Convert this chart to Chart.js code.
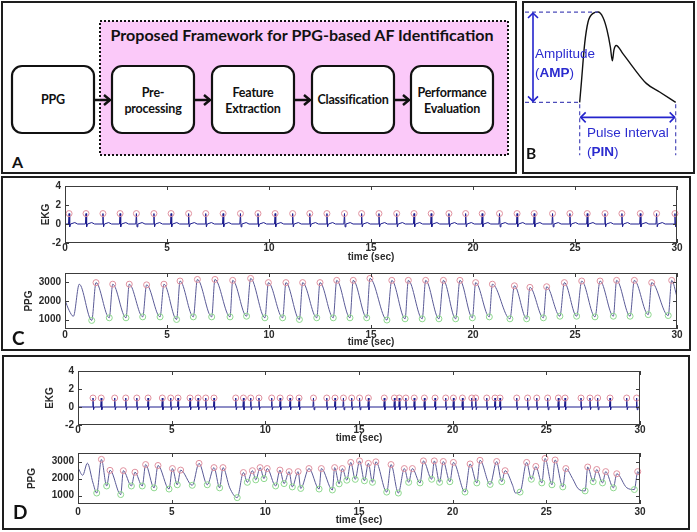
<!DOCTYPE html>
<html>
<head>
<meta charset="utf-8">
<script src="https://cdn.jsdelivr.net/npm/chart.js@4.4.1/dist/chart.umd.min.js"></script>
<style>
  body { margin: 0; background: #fff; width: 697px; height: 532px; position: relative; overflow: hidden; font-family: "Liberation Sans", Arial, sans-serif; }
  .panel { position: absolute; border: 2px solid #1e1e1e; box-sizing: border-box; }
  canvas { position: absolute; }
  .letter { position: absolute; font-family: Lato, "Liberation Sans", sans-serif; font-weight: bold; color: #111; line-height: 1; }
  .note { position: absolute; color: #2b2bcf; font-size: 13.5px; line-height: 1; white-space: nowrap; }
</style>
</head>
<body>
<div class="panel" style="left:1px;top:1px;width:516px;height:173px"></div>
<div class="panel" style="left:522px;top:1px;width:173px;height:173px"></div>
<div class="panel" style="left:1px;top:176px;width:690px;height:175px"></div>
<div class="panel" style="left:2px;top:355px;width:688px;height:175px"></div>

<svg id="diagram" width="520" height="176" style="position:absolute;left:0;top:0">
  <rect x="100" y="21" width="408" height="134" fill="#fbc9f9" stroke="#111" stroke-width="2" stroke-dasharray="2 2"/>
  <text x="302" y="41" text-anchor="middle" font-family="Lato" font-weight="bold" font-size="15" fill="#111"
        textLength="383" lengthAdjust="spacingAndGlyphs">Proposed Framework for PPG-based AF Identification</text>
</svg>

<canvas id="pulse"></canvas>
<div class="note" style="left:535px;top:46.5px">Amplitude</div>
<div class="note" style="left:535px;top:66px">(<b>AMP</b>)</div>
<div class="note" style="left:587px;top:125.5px">Pulse Interval</div>
<div class="note" style="left:587px;top:145px">(<b>PIN</b>)</div>

<canvas id="ekgC"></canvas>
<canvas id="ppgC"></canvas>
<canvas id="ekgD"></canvas>
<canvas id="ppgD"></canvas>

<div class="letter" style="left:12px;top:154px;font-size:16px">A</div>
<div class="letter" style="left:526px;top:146px;font-size:15.5px">B</div>
<div class="letter" style="left:12px;top:328px;font-size:19px">C</div>
<div class="letter" style="left:13px;top:502px;font-size:19px">D</div>

<script>
// ---- values ----
const stageNames = ['PPG', 'Pre-\nprocessing', 'Feature\nExtraction', 'Classification', 'Performance\nEvaluation'];

const xTicks = [0, 5, 10, 15, 20, 25, 30];
const ekgTicks = [-2, 0, 2, 4];
const ppgTicks = [1000, 2000, 3000];

// B: one pulse, time and amplitude normalised to 0..1
const pulseT = [0, 0.017, 0.052, 0.087, 0.139, 0.191, 0.243, 0.285, 0.32, 0.34, 0.357, 0.38, 0.45, 0.555, 0.694, 0.833, 1.0];
const pulseA = [0, 0.21, 0.65, 0.89, 0.985, 1.0, 0.94, 0.8, 0.61, 0.46, 0.58, 0.63, 0.54, 0.39, 0.21, 0.115, 0.0];

// C: regular rhythm
const ekgBeatsC = [0.2, 1.03, 1.86, 2.7, 3.5, 4.36, 5.2, 6.06, 6.9, 7.75, 8.6, 9.46, 10.3, 11.16, 12.0, 12.84, 13.7, 14.54,
  15.39, 16.26, 17.11, 17.95, 18.82, 19.64, 20.45, 21.3, 22.16, 23.0, 23.9, 24.75, 25.6, 26.47, 27.3, 28.2, 29.0, 29.9];
const ekgPeakC = 1.1;
const ppgPeakTC = [1.52, 2.34, 3.15, 4.0, 4.85, 5.64, 6.49, 7.35, 8.22, 9.1, 9.97, 10.83, 11.65, 12.5, 13.32, 14.13, 14.95,
  16.02, 16.83, 17.68, 18.55, 19.36, 20.13, 20.95, 22.03, 22.79, 23.61, 24.48, 25.33, 26.23, 27.04, 27.91, 28.76, 29.74];
const ppgPeakVC = [2985, 2900, 2900, 2865, 2900, 3070, 3155, 3155, 3105, 3210, 2985, 2985, 2985, 2985, 3105, 3105, 3210,
  3105, 3105, 3105, 3105, 3105, 2985, 2900, 2815, 2730, 2765, 2985, 3070, 3070, 3105, 3105, 2985, 3105];
const ppgFootTC = [1.31, 2.17, 2.99, 3.81, 4.66, 5.47, 6.29, 7.19, 8.09, 8.9, 9.8, 10.67, 11.49, 12.34, 13.15, 13.97, 14.79,
  15.78, 16.67, 17.51, 18.33, 19.15, 19.97, 20.8, 21.81, 22.63, 23.45, 24.26, 25.08, 25.98, 26.88, 27.7, 28.59, 29.57];
const ppgFootVC = [960, 1100, 1100, 1150, 1150, 1010, 1150, 1150, 1150, 1185, 1100, 1100, 1010, 1100, 1100, 1100, 1100,
  980, 1045, 1045, 1045, 1045, 1100, 1150, 1045, 1045, 1100, 1185, 1185, 1150, 1185, 1185, 1270, 1220];
const ppgEdgeTC = [0, 0.2, 0.41, 0.7, 30];          // unmarked trace points
const ppgEdgeVC = [2045, 1500, 1180, 2900, 2215];

// D: irregular rhythm (AF)
const ekgBeatsD = [0.8, 1.24, 1.96, 2.55, 3.14, 3.74, 4.5, 4.95, 5.34, 5.98, 6.41, 6.82, 7.26, 8.42, 8.83, 9.22, 9.66,
  10.34, 10.79, 11.32, 11.8, 12.57, 13.28, 13.72, 14.17, 14.61, 15.03, 15.5, 16.35, 16.89, 17.15, 17.5, 17.95, 18.49,
  19.06, 19.63, 20.04, 20.52, 21.02, 21.23, 21.82, 22.26, 22.53, 23.42, 24.0, 24.49, 25.07, 25.64, 26.0, 26.85, 27.33,
  27.74, 28.4, 29.29, 29.82];
const ekgPeakD = 1.0;
const ppgPeakTD = [1.25, 1.71, 2.42, 3.04, 3.61, 4.27, 5.04, 5.48, 6.46, 7.26, 7.74, 8.83, 9.31, 9.72, 10.1, 10.78, 11.27,
  11.75, 12.33, 12.99, 13.7, 14.11, 14.56, 15.03, 15.5, 15.9, 16.71, 17.42, 17.85, 18.44, 19.02, 19.5, 20.04, 20.93, 21.46,
  22.35, 22.8, 23.95, 24.44, 24.93, 25.47, 26.04, 27.21, 27.69, 28.17, 28.76, 29.88];
const ppgPeakVD = [3125, 2480, 2460, 2370, 2820, 2765, 2585, 2495, 2890, 2640, 2640, 2350, 2460, 2640, 2585, 2495, 2405,
  2405, 2585, 2585, 2640, 2585, 2945, 3035, 2890, 2980, 2820, 2585, 2585, 3035, 3035, 3000, 2945, 2855, 3070,
  3000, 2460, 2945, 2710, 3180, 3090, 2585, 2675, 2530, 2405, 2280, 2405];
const ppgFootTD = [1.0, 1.53, 2.28, 2.85, 3.43, 4.06, 4.86, 5.3, 6.1, 6.9, 7.56, 8.5, 9.04, 9.49, 9.93, 10.55, 11.0,
  11.44, 11.89, 12.87, 13.58, 13.94, 14.35, 14.8, 15.29, 15.72, 16.48, 17.1, 17.65, 18.26, 18.88, 19.3, 19.85, 20.66, 21.29,
  22.0, 22.62, 23.6, 24.2, 24.76, 25.3, 25.88, 27.07, 27.5, 28.0, 28.58, 29.7];
const ppgFootVD = [1145, 1560, 1055, 1560, 1560, 1450, 1380, 1630, 1600, 1630, 1450, 875, 1775, 1920, 1990, 1560, 1700,
  1505, 1415, 1380, 1325, 1685, 1900, 1950, 1865, 1775, 1200, 1145, 1775, 1740, 1955, 1775, 1810, 1200, 1740,
  1650, 1810, 1200, 1955, 1740, 1630, 1505, 1270, 1810, 1740, 1450, 1350];
const ppgEdgeTD = [0, 0.25, 0.5, 0.8, 8.1, 23.2, 23.35, 26.4, 26.7, 29.3, 30];
const ppgEdgeVD = [2640, 2190, 2900, 1740, 1450, 1600, 1150, 2000, 1400, 1450, 2100];

// ---- panel A: block diagram ----
const svgNS = 'http://www.w3.org/2000/svg';
const diag = document.getElementById('diagram');
const boxLeft = [12, 112, 212, 312, 411];

function svgEl(tag, attrs, text) {
  const el = document.createElementNS(svgNS, tag);
  for (const k in attrs) el.setAttribute(k, attrs[k]);
  if (text) el.textContent = text;
  diag.appendChild(el);
  return el;
}

stageNames.forEach((name, i) => {
  const bx = boxLeft[i];
  svgEl('rect', { x: bx, y: 66, width: 82, height: 67, rx: 10, fill: '#fff', stroke: '#111', 'stroke-width': 2.2 });
  const lines = name.split('\n');
  lines.forEach((ln, j) => {
    const by = lines.length === 1 ? 104 : (j === 0 ? 96.5 : 113);
    svgEl('text', { x: bx + 41, y: by, 'text-anchor': 'middle', 'font-family': 'Lato', 'font-weight': 'bold',
      'font-size': 12.5, 'letter-spacing': -0.2, fill: '#111' }, ln);
  });
  if (i < stageNames.length - 1) {
    const x1 = bx + 83, x2 = boxLeft[i + 1] - 1;
    svgEl('line', { x1: x1, y1: 100, x2: x2 - 1, y2: 100, stroke: '#111', 'stroke-width': 2.5 });
    svgEl('polyline', { points: `${x2 - 7},95 ${x2 - 1},100 ${x2 - 7},105`, fill: 'none', stroke: '#111', 'stroke-width': 2.5 });
  }
});

// ---- Chart.js helpers ----
Chart.defaults.font.family = "'Liberation Sans', Arial, sans-serif";
const tickFont = { size: 10, weight: 'bold', lineHeight: 1.2 };
const txt = '#2a2a2a';

const axisBox = {
  id: 'axisBox',
  afterDraw(chart) {
    const { ctx, chartArea: a, scales: { x, y } } = chart;
    ctx.save();
    ctx.strokeStyle = '#3c3c3c';
    ctx.lineWidth = 1;
    ctx.strokeRect(a.left + 0.5, a.top + 0.5, a.width - 1, a.height - 1);
    ctx.beginPath();
    x.ticks.forEach(t => {
      const px = Math.round(x.getPixelForValue(t.value)) + 0.5;
      ctx.moveTo(px, a.bottom); ctx.lineTo(px, a.bottom - 4);
      ctx.moveTo(px, a.top); ctx.lineTo(px, a.top + 4);
    });
    y.ticks.forEach(t => {
      const py = Math.round(y.getPixelForValue(t.value)) + 0.5;
      ctx.moveTo(a.left, py); ctx.lineTo(a.left + 4, py);
      ctx.moveTo(a.right, py); ctx.lineTo(a.right - 4, py);
    });
    ctx.stroke();
    ctx.restore();
  }
};

function ekgTrace(beats, peak, tWave) {
  const pts = [{ x: 0, y: 0 }, { x: 30, y: 0 }];
  beats.forEach(b => {
    pts.push({ x: b - 0.03, y: 0 }, { x: b, y: peak }, { x: b + 0.03, y: -0.3 }, { x: b + 0.07, y: 0 });
    if (tWave) pts.push({ x: b + 0.28, y: 0.15 }, { x: b + 0.42, y: 0 });
  });
  return pts.filter(p => p.x >= 0 && p.x <= 30).sort((p, q) => p.x - q.x);
}

function pairs(ts, vs) { return ts.map((t, i) => ({ x: t, y: vs[i] })); }

function markers(data, color) {
  return { data, showLine: false, pointRadius: 3, pointBorderWidth: 1, pointBorderColor: color,
    pointBackgroundColor: 'rgba(0,0,0,0)', clip: false };
}

function signalChart(id, plot, o) {
  const cv = document.getElementById(id);
  const left = o.titleX - 6, top = plot.t - 8;
  cv.width = plot.r + 14 - left;
  cv.height = plot.b + o.xh - top;
  cv.style.left = left + 'px';
  cv.style.top = top + 'px';
  return new Chart(cv, {
    type: 'line',
    data: { datasets: o.datasets },
    options: {
      responsive: false, animation: false, devicePixelRatio: 1,
      layout: { padding: { top: 8, right: 14, left: 0, bottom: 0 } },
      plugins: { legend: { display: false }, tooltip: { enabled: false } },
      scales: {
        x: {
          type: 'linear', min: 0, max: 30,
          afterBuildTicks: s => { s.ticks = xTicks.map(v => ({ value: v })); },
          afterFit: s => { s.height = o.xh; },
          grid: { display: false, drawTicks: false }, border: { display: false },
          ticks: { padding: o.tickPad, color: txt, font: tickFont, maxRotation: 0, autoSkip: false,
            callback: v => String(v) },
          title: { display: true, text: 'time (sec)', padding: 0, color: txt, font: tickFont }
        },
        y: {
          type: 'linear', min: o.ymin, max: o.ymax,
          afterBuildTicks: s => { s.ticks = o.yticks.map(v => ({ value: v })); },
          afterFit: s => { s.width = plot.l - left; },
          grid: { display: false, drawTicks: false }, border: { display: false },
          ticks: { padding: 4, color: txt, font: tickFont, callback: v => String(v) },
          title: { display: true, text: o.ylabel, padding: 0, color: txt, font: tickFont }
        }
      }
    },
    plugins: [axisBox]
  });
}

function ekgDatasets(beats, peak, tWave) {
  return [
    markers(beats.map(b => ({ x: b, y: peak })), '#e0909e'),
    { data: ekgTrace(beats, peak, tWave), borderColor: '#1c1c8e', borderWidth: 1, pointRadius: 0 }
  ];
}

function ppgDatasets(eT, eV, pT, pV, fT, fV) {
  const trace = pairs(eT, eV).concat(pairs(pT, pV), pairs(fT, fV)).sort((p, q) => p.x - q.x);
  return [
    markers(pairs(pT, pV), '#e0909e'),
    markers(pairs(fT, fV), '#8ed88e'),
    { data: trace, borderColor: '#5a5a96', borderWidth: 1, pointRadius: 0, cubicInterpolationMode: 'monotone' }
  ];
}

signalChart('ekgC', { l: 65, t: 184, r: 677, b: 243 },
  { titleX: 46, xh: 20, tickPad: -1, ymin: -2, ymax: 4, yticks: ekgTicks, ylabel: 'EKG',
    datasets: ekgDatasets(ekgBeatsC, ekgPeakC, true) });
signalChart('ppgC', { l: 65, t: 271, r: 677, b: 329 },
  { titleX: 29, xh: 19, tickPad: 0, ymin: 500, ymax: 3500, yticks: ppgTicks, ylabel: 'PPG',
    datasets: ppgDatasets(ppgEdgeTC, ppgEdgeVC, ppgPeakTC, ppgPeakVC, ppgFootTC, ppgFootVC) });
signalChart('ekgD', { l: 78, t: 369, r: 640, b: 425 },
  { titleX: 50, xh: 19, tickPad: -1, ymin: -2, ymax: 4, yticks: ekgTicks, ylabel: 'EKG',
    datasets: ekgDatasets(ekgBeatsD, ekgPeakD, false) });
signalChart('ppgD', { l: 78, t: 451, r: 640, b: 504 },
  { titleX: 32, xh: 22, tickPad: 2, ymin: 500, ymax: 3500, yticks: ppgTicks, ylabel: 'PPG',
    datasets: ppgDatasets(ppgEdgeTD, ppgEdgeVD, ppgPeakTD, ppgPeakVD, ppgFootTD, ppgFootVD) });

// ---- panel B: pulse with amplitude / interval annotations ----
function arrowHead(ctx, x, y, dx, dy) {
  const s = 5;
  ctx.beginPath();
  ctx.moveTo(x - dx * s - dy * s, y - dy * s - dx * s);
  ctx.lineTo(x, y);
  ctx.lineTo(x - dx * s + dy * s, y - dy * s + dx * s);
  ctx.stroke();
}

const pulseNotes = {
  id: 'pulseNotes',
  afterDatasetsDraw(chart) {
    const { ctx, chartArea: a, scales: { x, y } } = chart;
    const iPk = pulseA.indexOf(Math.max(...pulseA));
    const x0 = x.getPixelForValue(pulseT[0]);
    const x1 = x.getPixelForValue(pulseT[pulseT.length - 1]);
    const xp = x.getPixelForValue(pulseT[iPk]);
    const yTop = y.getPixelForValue(pulseA[iPk]);
    const yBase = y.getPixelForValue(pulseA[0]);
    const seg = (ax, ay, bx, by) => { ctx.beginPath(); ctx.moveTo(ax, ay); ctx.lineTo(bx, by); ctx.stroke(); };
    ctx.save();
    ctx.strokeStyle = '#4d4dba';
    ctx.lineWidth = 1.2;
    ctx.setLineDash([4, 3]);
    seg(a.left + 1, yTop, xp, yTop);
    seg(a.left + 1, yBase, x0, yBase);
    seg(x0, yBase + 2, x0, yBase + 53);
    seg(x1, yBase + 2, x1, yBase + 53);
    ctx.setLineDash([]);
    ctx.strokeStyle = '#2424cc';
    ctx.lineWidth = 1.6;
    const ax = a.left + 9;
    seg(ax, yTop + 1, ax, yBase - 1);
    arrowHead(ctx, ax, yTop + 1, 0, -1);
    arrowHead(ctx, ax, yBase - 1, 0, 1);
    const ay = yBase + 15;
    seg(x0 + 1, ay, x1 - 1, ay);
    arrowHead(ctx, x0 + 1, ay, -1, 0);
    arrowHead(ctx, x1 - 1, ay, 1, 0);
    ctx.restore();
  }
};

const pulseCanvas = document.getElementById('pulse');
pulseCanvas.width = 168;
pulseCanvas.height = 168;
pulseCanvas.style.left = '524px';
pulseCanvas.style.top = '3px';
new Chart(pulseCanvas, {
  type: 'line',
  data: { datasets: [{ data: pairs(pulseT, pulseA), borderColor: '#111', borderWidth: 1.4, pointRadius: 0,
    cubicInterpolationMode: 'monotone' }] },
  options: {
    responsive: false, animation: false, devicePixelRatio: 1,
    layout: { padding: 0 },
    plugins: { legend: { display: false }, tooltip: { enabled: false } },
    scales: {
      x: { type: 'linear', display: false, min: -0.58, max: 1.17 },
      y: { type: 'linear', display: false, min: -0.76, max: 1.1 }
    }
  },
  plugins: [pulseNotes]
});
</script>
</body>
</html>
